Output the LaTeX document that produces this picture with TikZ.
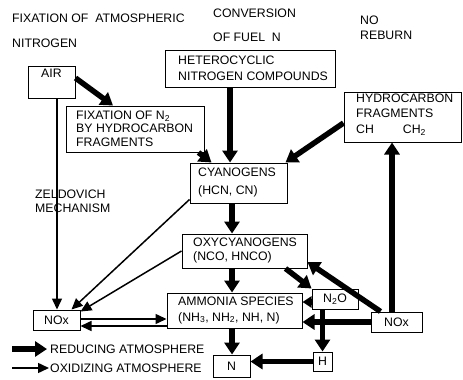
\documentclass[tikz,border=0pt]{standalone}
\usepackage{fontspec}
\setmainfont{Liberation Sans}
\usetikzlibrary{arrows.meta,fit}
\begin{document}
\begin{tikzpicture}[x=1pt,y=-1pt,
  box/.style={draw, line width=1pt, inner sep=0pt},
  txt/.style={inner sep=0pt, anchor=west, align=left, font=\fontsize{12.3}{15}\selectfont},
  ctxt/.style={inner sep=0pt, font=\fontsize{12.3}{15}\selectfont},
  redarrow/.style={line width=5.5pt, -{Triangle[length=12pt,width=15pt]}},
  oxarrow/.style={line width=1.5pt, -{Triangle[length=11pt,width=10pt]}}]
\useasboundingbox (0,0) rectangle (463,380);

% headings
\node[txt] (h1) at (12,18) {FIXATION OF\ \ ATMOSPHERIC};
\node[txt] (h2) at (12,43) {NITROGEN};
\node[txt] (h3) at (213,13) {CONVERSION};
\node[txt] (h4) at (213,37) {OF FUEL\ \ N};
\node[txt] (h5) at (360,20) {NO};
\node[txt] (h6) at (360,35) {REBURN};

% boxes
\node[box, fit={(28,66) (75,98)}] (air) {};
\node[box, fit={(66,106) (204,152)}] (fix) {};
\node[box, fit={(165,50) (335,87)}] (het) {};
\node[box, fit={(344,92) (461,142)}] (hcf) {};
\node[box, fit={(190,163) (287,203)}] (cyan) {};
\node[box, fit={(182,234) (307,268)}] (oxy) {};
\node[box, fit={(167,293) (302,328)}] (amm) {};
\node[box, fit={(312,289) (358,309)}] (n2o) {};
\node[box, fit={(371,312) (422,332)}] (noxr) {};
\node[box, fit={(33,310) (80,330)}] (noxl) {};
\node[box, fit={(313,352) (332,371)}] (hbox) {};
\node[box, fit={(213,355) (250,377)}] (nbox) {};

% box texts
\node[ctxt] (airt) at (51.5,73) {AIR};
\node[txt, font=\fontsize{12.3}{13.5}\selectfont] (fixt) at (76,128.5) {FIXATION OF N\textsubscript{2}\\BY HYDROCARBON\\FRAGMENTS};
\node[txt, font=\fontsize{12.3}{16}\selectfont] (hett) at (178,68) {HETEROCYCLIC\\NITROGEN COMPOUNDS};
\node[txt, font=\fontsize{12.3}{15.5}\selectfont] (hcft) at (356,114.5) {HYDROCARBON\\FRAGMENTS\\CH\hspace{29pt}CH\textsubscript{2}};
\node[txt, font=\fontsize{12.3}{18}\selectfont] (cyant) at (198,182) {CYANOGENS\\(HCN, CN)};
\node[txt, font=\fontsize{12.3}{14}\selectfont] (oxyt) at (193,250.5) {OXYCYANOGENS\\(NCO, HNCO)};
\node[txt, font=\fontsize{12.3}{16}\selectfont] (ammt) at (178,310) {AMMONIA SPECIES\\(NH\textsubscript{3}, NH\textsubscript{2}, NH, N)};
\node[ctxt] (n2ot) at (n2o.center) {N\textsubscript{2}O};
\node[ctxt] (noxrt) at (noxr.center) {NOx};
\node[ctxt] (noxlt) at (noxl.center) {NOx};
\node[ctxt] (ht) at (hbox.center) {H};
\node[ctxt] (nt) at (nbox.center) {N};
\node[txt, font=\fontsize{12.3}{14}\selectfont] (zel) at (35,201) {ZELDOVICH\\MECHANISM};

% reducing (thick) connectors
\draw[redarrow] ([yshift=4pt]air.east) -- ([xshift=-22pt]fix.north);
\draw[redarrow] ([xshift=-20pt]het.south) -- ([xshift=-8.5pt]cyan.north);
\draw[redarrow] ([xshift=-6pt]fix.south east) -- ([xshift=22pt]cyan.north west);
\draw[redarrow] ([yshift=-6pt]hcf.west) -- ([xshift=-2pt]cyan.north east);
\draw[redarrow] ([xshift=-6.5pt]cyan.south) -- ([xshift=-12.5pt]oxy.north);
\draw[redarrow] ([xshift=-12.5pt]oxy.south) -- ([xshift=-2.5pt]amm.north);
\draw[redarrow] ([xshift=-22pt]oxy.south east) -- (n2o.north west);
\draw[redarrow] ([xshift=10pt]noxr.north west) -- ([yshift=-11pt]oxy.east);
\draw[redarrow] ([xshift=-4.5pt]noxr.north) -- ([xshift=-10.5pt]hcf.south);
\draw[redarrow] (noxr.west) -- ([yshift=-11.5pt]amm.east);
\draw[line width=5.5pt, -{Triangle[length=9pt,width=11pt]}] ([yshift=-3pt]n2o.west) -- ([yshift=8.5pt]amm.east);
\draw[redarrow] ([xshift=-12.5pt]n2o.south) -- (hbox.north);
\draw[redarrow] (hbox.west) -- ([yshift=4.5pt]nbox.east);
\draw[redarrow] ([xshift=-2.5pt]amm.south) -- ([xshift=0.5pt]nbox.north);

% oxidizing (thin) connectors
\draw[oxarrow] ([xshift=5.5pt]air.south) -- ([xshift=0.5pt]noxl.north);
\draw[oxarrow] ([yshift=4pt]cyan.south west) -- ([xshift=-9pt]noxl.north east);
\draw[oxarrow] (oxy.west) -- ([yshift=-2pt]noxl.north east);
\draw[oxarrow] ([yshift=1pt]noxl.east) -- ([yshift=-8.5pt]amm.west);
\draw[oxarrow] ([yshift=-15.5pt]amm.west) -- ([yshift=-6pt]noxl.east);

% legend
\coordinate (l1a) at (12,349);
\coordinate (l1b) at (47,349);
\coordinate (l2a) at (12,368);
\coordinate (l2b) at (49,368);
\draw[redarrow] (l1a) -- (l1b);
\draw[oxarrow] (l2a) -- (l2b);
\node[txt] (leg1) at (50,349) {REDUCING ATMOSPHERE};
\node[txt] (leg2) at (50,368) {OXIDIZING ATMOSPHERE};
\end{tikzpicture}
\end{document}
